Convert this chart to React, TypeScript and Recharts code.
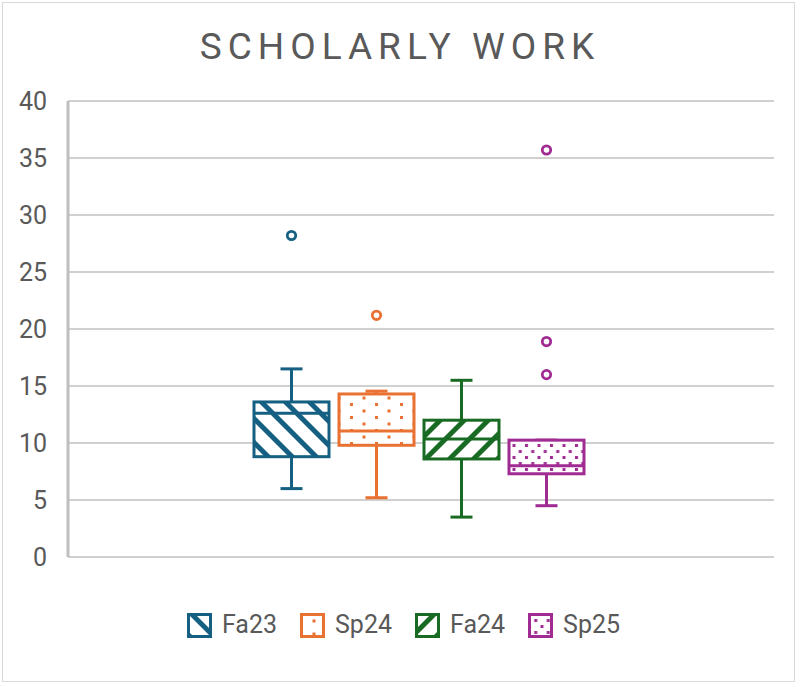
import React from 'react';
import { ComposedChart, Bar, XAxis, YAxis, CartesianGrid, Legend } from 'recharts';

const categories = ['Fa23', 'Sp24', 'Fa24', 'Sp25'];
const colors = ['#156082', '#E97132', '#196B24', '#A02B93'];
const mins = [6.0, 5.2, 3.5, 4.5];
const q1s = [8.8, 9.8, 8.6, 7.3];
const medians = [12.6, 11.05, 10.35, 8.0];
const q3s = [13.6, 14.3, 12.0, 10.25];
const maxs = [16.5, 14.55, 15.5, 10.25];
const outliers = [[28.2], [21.2], [], [35.7, 18.9, 16.0]];
const yTicks = [0, 5, 10, 15, 20, 25, 30, 35, 40];
const title = 'SCHOLARLY WORK';

const row: Record<string, any> = { name: 'All' };
categories.forEach((c, i) => {
  row[c] = [mins[i], maxs[i]];
});
const data = [row];

const FONT = 'Roboto, "Open Sans", sans-serif';
const TEXT = '#595959';

function renderBox(p: any, i: number) {
  const top = Math.min(p.y, p.y + p.height);
  const bot = Math.max(p.y, p.y + p.height);
  const lo = mins[i];
  const hi = maxs[i];
  const yOf = (v: number) => bot - ((v - lo) / (hi - lo)) * (bot - top);
  const c = colors[i];
  const cx = p.x + p.width / 2;
  const cap = 11;
  const yQ3 = yOf(q3s[i]);
  const yQ1 = yOf(q1s[i]);
  return (
    <g>
      <line x1={cx} x2={cx} y1={yOf(maxs[i])} y2={yQ3} stroke={c} strokeWidth={3} />
      <line x1={cx} x2={cx} y1={yQ1} y2={yOf(mins[i])} stroke={c} strokeWidth={3} />
      <line x1={cx - cap} x2={cx + cap} y1={yOf(maxs[i])} y2={yOf(maxs[i])} stroke={c} strokeWidth={3} />
      <line x1={cx - cap} x2={cx + cap} y1={yOf(mins[i])} y2={yOf(mins[i])} stroke={c} strokeWidth={3} />
      <rect x={p.x} y={yQ3} width={p.width} height={yQ1 - yQ3} fill="#fff" />
      <rect x={p.x} y={yQ3} width={p.width} height={yQ1 - yQ3} fill={`url(#pat-${i})`} stroke={c} strokeWidth={3} />
      <line x1={p.x} x2={p.x + p.width} y1={yOf(medians[i])} y2={yOf(medians[i])} stroke={c} strokeWidth={3} />
      {outliers[i].map((v, k) => (
        <circle key={k} cx={cx} cy={yOf(v)} r={4.2} fill="#fff" stroke={c} strokeWidth={2.8} />
      ))}
    </g>
  );
}

function Patterns() {
  return (
    <svg width={0} height={0} style={{ position: 'absolute', left: 0, top: 0 }}>
      <defs>
        <pattern id="pat-0" patternUnits="userSpaceOnUse" width={24} height={24}>
          <polygon points="0,0 7,0 24,17 24,24" fill={colors[0]} />
          <polygon points="0,17 7,24 0,24" fill={colors[0]} />
        </pattern>
        <pattern id="pat-1" patternUnits="userSpaceOnUse" width={25} height={13}>
          <rect x={0} y={0} width={3} height={3} fill={colors[1]} />
          <rect x={12.5} y={6.5} width={3} height={3} fill={colors[1]} />
        </pattern>
        <pattern id="pat-2" patternUnits="userSpaceOnUse" width={24} height={24}>
          <polygon points="24,0 17,0 0,17 0,24" fill={colors[2]} />
          <polygon points="24,17 17,24 24,24" fill={colors[2]} />
        </pattern>
        <pattern id="pat-3" patternUnits="userSpaceOnUse" width={12.5} height={12}>
          <rect x={0} y={0} width={3} height={3} fill={colors[3]} />
          <rect x={6.25} y={6} width={3} height={3} fill={colors[3]} />
        </pattern>
      </defs>
    </svg>
  );
}

function renderLegend() {
  return (
    <div
      style={{
        display: 'flex',
        justifyContent: 'center',
        alignItems: 'center',
        paddingLeft: 7,
        fontFamily: FONT,
        fontSize: 25,
        color: TEXT,
        height: 28,
      }}
    >
      {categories.map((name, i) => (
        <div key={name} style={{ display: 'flex', alignItems: 'center', marginRight: i < categories.length - 1 ? 23 : 0 }}>
          <svg width={25} height={25} style={{ marginRight: 10 }}>
            <rect x={1.5} y={1.5} width={22} height={22} fill="#fff" />
            <rect x={1.5} y={1.5} width={22} height={22} fill={`url(#pat-${i})`} stroke={colors[i]} strokeWidth={3} />
          </svg>
          <span style={{ lineHeight: '28px' }}>{name}</span>
        </div>
      ))}
    </div>
  );
}

export default function App() {
  return (
    <div style={{ position: 'absolute', left: 0, top: 0, width: 800, height: 687, background: '#fff' }}>
      <div
        style={{
          position: 'absolute',
          left: 2,
          top: 2,
          width: 791,
          height: 678,
          border: '1.5px solid #d9d9d9',
        }}
      />
      <Patterns />
      <svg width={800} height={90} style={{ position: 'absolute', left: 0, top: 0 }}>
        <text
          x={400}
          y={58.5}
          textAnchor="middle"
          fontFamily={FONT}
          fontSize={37}
          fill={TEXT}
          letterSpacing={6}
        >
          {title}
        </text>
      </svg>
      <div style={{ position: 'absolute', left: 0, top: 0 }}>
        <ComposedChart
          width={800}
          height={687}
          data={data}
          margin={{ top: 101, right: 26, bottom: 130, left: 0 }}
          barSize={75}
          barGap={10}
        >
          <CartesianGrid horizontal vertical={false} stroke="#d0d0d0" strokeWidth={2} />
          <XAxis dataKey="name" hide padding={{ left: 0, right: 5 }} />
          <YAxis
            domain={[0, 40]}
            ticks={yTicks}
            interval={0}
            width={68}
            axisLine={{ stroke: '#bfbfbf', strokeWidth: 3 }}
            tickLine={false}
            tickSize={0}
            tickMargin={21}
            tick={{ fill: TEXT, fontSize: 25, fontFamily: FONT }}
          />
          {categories.map((c, i) => (
            <Bar
              key={c}
              dataKey={c}
              name={c}
              fill={colors[i]}
              isAnimationActive={false}
              shape={(p: any) => renderBox(p, i)}
            />
          ))}
          <Legend
            verticalAlign="middle"
            align="center"
            layout="horizontal"
            wrapperStyle={{ top: 611, left: 0, width: 800 }}
            content={renderLegend}
          />
        </ComposedChart>
      </div>
    </div>
  );
}
